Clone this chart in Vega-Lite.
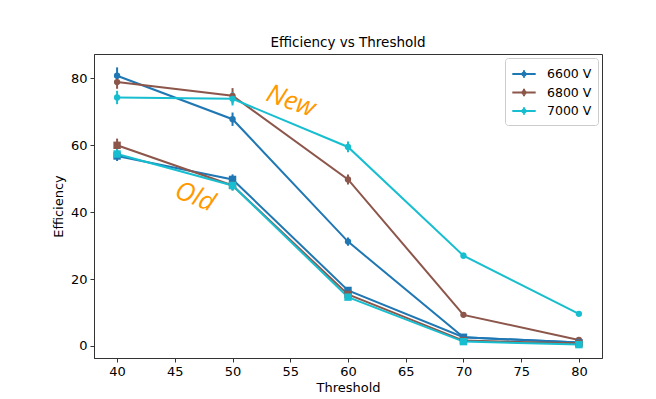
{
  "$schema": "https://vega.github.io/schema/vega-lite/v6.json",
  "width": 508,
  "height": 304,
  "autosize": {"type": "none"},
  "padding": {"left": 94, "top": 54, "right": 54, "bottom": 41},
  "background": "white",
  "title": {"text": "Efficiency vs Threshold", "font": "DejaVu Sans", "fontSize": 13.5, "fontWeight": "normal", "color": "#000", "offset": 5},
  "config": {
    "view": {"stroke": "#333", "strokeWidth": 1},
    "axis": {"labelFont": "DejaVu Sans", "labelFontSize": 13, "labelColor": "#000", "titleFont": "DejaVu Sans", "titleFontSize": 13, "titleFontWeight": "normal", "titleColor": "#000", "tickColor": "#333", "tickSize": 4, "domainColor": "#333", "grid": false, "labelPadding": 3}
  },
  "datasets": {
    "eff": [
      {"t": 40, "v": "6600 V", "g": "New", "eff": 80.8, "err": 2.5},
      {"t": 50, "v": "6600 V", "g": "New", "eff": 67.8, "err": 2.0},
      {"t": 60, "v": "6600 V", "g": "New", "eff": 31.2, "err": 1.2},
      {"t": 70, "v": "6600 V", "g": "New", "eff": 2.6, "err": 0.5},
      {"t": 80, "v": "6600 V", "g": "New", "eff": 1.0, "err": 0.3},
      {"t": 40, "v": "6800 V", "g": "New", "eff": 78.9, "err": 2.0},
      {"t": 50, "v": "6800 V", "g": "New", "eff": 74.8, "err": 2.3},
      {"t": 60, "v": "6800 V", "g": "New", "eff": 49.8, "err": 1.5},
      {"t": 70, "v": "6800 V", "g": "New", "eff": 9.3, "err": 0.6},
      {"t": 80, "v": "6800 V", "g": "New", "eff": 1.8, "err": 0.3},
      {"t": 40, "v": "7000 V", "g": "New", "eff": 74.3, "err": 2.0},
      {"t": 50, "v": "7000 V", "g": "New", "eff": 73.9, "err": 2.0},
      {"t": 60, "v": "7000 V", "g": "New", "eff": 59.5, "err": 1.6},
      {"t": 70, "v": "7000 V", "g": "New", "eff": 27.0, "err": 0.9},
      {"t": 80, "v": "7000 V", "g": "New", "eff": 9.6, "err": 0.5},
      {"t": 40, "v": "6600 V", "g": "Old", "eff": 56.8, "err": 1.5},
      {"t": 50, "v": "6600 V", "g": "Old", "eff": 49.8, "err": 1.5},
      {"t": 60, "v": "6600 V", "g": "Old", "eff": 16.6, "err": 0.8},
      {"t": 70, "v": "6600 V", "g": "Old", "eff": 2.6, "err": 0.4},
      {"t": 80, "v": "6600 V", "g": "Old", "eff": 1.0, "err": 0.2},
      {"t": 40, "v": "6800 V", "g": "Old", "eff": 60.0, "err": 2.0},
      {"t": 50, "v": "6800 V", "g": "Old", "eff": 48.0, "err": 1.5},
      {"t": 60, "v": "6800 V", "g": "Old", "eff": 15.4, "err": 0.8},
      {"t": 70, "v": "6800 V", "g": "Old", "eff": 1.6, "err": 0.3},
      {"t": 80, "v": "6800 V", "g": "Old", "eff": 0.8, "err": 0.2},
      {"t": 40, "v": "7000 V", "g": "Old", "eff": 57.4, "err": 1.5},
      {"t": 50, "v": "7000 V", "g": "Old", "eff": 48.0, "err": 1.5},
      {"t": 60, "v": "7000 V", "g": "Old", "eff": 14.6, "err": 0.8},
      {"t": 70, "v": "7000 V", "g": "Old", "eff": 1.3, "err": 0.3},
      {"t": 80, "v": "7000 V", "g": "Old", "eff": 0.4, "err": 0.2}
    ]
  },
  "layer": [
    {
      "data": {"name": "eff"},
      "mark": {"type": "line", "strokeWidth": 2},
      "encoding": {
        "x": {"field": "t", "type": "quantitative", "title": "Threshold", "scale": {"domain": [38, 82], "nice": false, "zero": false}, "axis": {"values": [40, 45, 50, 55, 60, 65, 70, 75, 80], "titlePadding": 3}},
        "y": {"field": "eff", "type": "quantitative", "title": "Efficiency", "scale": {"domain": [-3.6, 87.3], "nice": false, "zero": false}, "axis": {"values": [0, 20, 40, 60, 80], "titlePadding": 5}},
        "detail": {"field": "g"},
        "color": {"field": "v", "type": "nominal", "scale": {"domain": ["6600 V", "6800 V", "7000 V"], "range": ["#1f77b4", "#8c564b", "#17becf"]}, "legend": {
          "title": null,
          "orient": "top-right",
          "offset": 4,
          "padding": 6,
          "strokeColor": "#cccccc",
          "fillColor": "white",
          "cornerRadius": 3,
          "labelFont": "DejaVu Sans",
          "labelFontSize": 12.5,
          "labelColor": "#000",
          "labelOffset": 13,
          "rowPadding": 0.5,
          "symbolSize": 324,
          "symbolStrokeWidth": 2,
          "symbolType": "M-1.3,0H1.3M0,-0.42V0.42M0.17,0A0.17,0.17 0 1,1 -0.17,0A0.17,0.17 0 1,1 0.17,0Z",
          "symbolOffset": 3,
          "encode": {"symbols": {"update": {"fill": {"scale": "color", "field": "value"}, "stroke": {"scale": "color", "field": "value"}, "opacity": {"value": 1}}}}
        }}
      }
    },
    {
      "data": {"name": "eff"},
      "mark": {"type": "errorbar", "thickness": 2},
      "encoding": {
        "x": {"field": "t", "type": "quantitative", "title": "Threshold"},
        "y": {"field": "eff", "type": "quantitative", "title": "Efficiency"},
        "yError": {"field": "err"},
        "color": {"field": "v", "type": "nominal"}
      }
    },
    {
      "data": {"name": "eff"},
      "mark": {"type": "point", "filled": true, "opacity": 1},
      "encoding": {
        "x": {"field": "t", "type": "quantitative", "title": "Threshold"},
        "y": {"field": "eff", "type": "quantitative", "title": "Efficiency"},
        "shape": {"field": "g", "type": "nominal", "scale": {"domain": ["New", "Old"], "range": ["circle", "square"]}, "legend": null},
        "size": {"field": "g", "type": "nominal", "scale": {"domain": ["New", "Old"], "range": [40, 55]}, "legend": null},
        "color": {"field": "v", "type": "nominal"}
      }
    },
    {
      "data": {"values": [{}]},
      "mark": {"type": "text", "text": "New", "font": "Open Sans", "fontStyle": "italic", "fontSize": 26, "color": "#ff9900", "angle": 20, "align": "center", "baseline": "middle"},
      "encoding": {
        "x": {"datum": 55.06, "type": "quantitative"},
        "y": {"datum": 73.2, "type": "quantitative"}
      }
    },
    {
      "data": {"values": [{}]},
      "mark": {"type": "text", "text": "Old", "font": "Open Sans", "fontStyle": "italic", "fontSize": 26, "color": "#ff9900", "angle": 22, "align": "center", "baseline": "middle"},
      "encoding": {
        "x": {"datum": 46.75, "type": "quantitative"},
        "y": {"datum": 44.6, "type": "quantitative"}
      }
    }
  ]
}
